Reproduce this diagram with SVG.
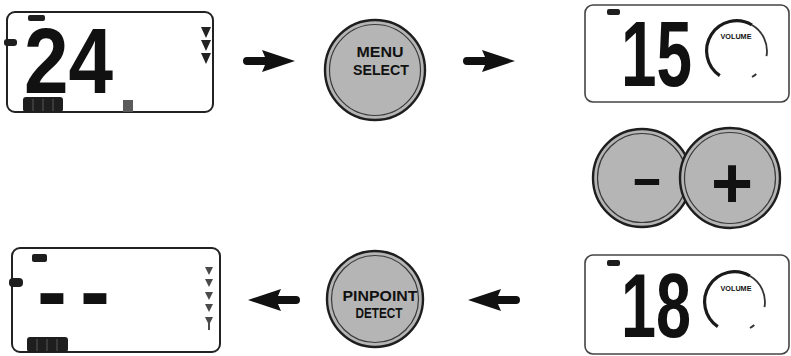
<svg xmlns="http://www.w3.org/2000/svg" width="791" height="356" viewBox="0 0 791 356">
  <style>
    .lcd { fill: #ffffff; stroke: #222; stroke-width: 2; }
    .lcd2 { fill: #ffffff; stroke: #444; stroke-width: 1.6; }
    .digit { font-family: "Liberation Sans", Arial, sans-serif; font-weight: bold; fill: #111; }
    .blob { fill: #1e1e1e; }
    .tri { fill: #222; }
    .tri2 { fill: #4a4a4a; }
    .btn { fill: #b5b5b5; stroke: #1e1e1e; stroke-width: 2.4; }
    .ring { fill: none; stroke: #3a3a3a; stroke-width: 1.2; }
    .lbl { font-family: "Liberation Sans", Arial, sans-serif; font-weight: bold; fill: #111; text-anchor: middle; }
    .vol { font-family: "Liberation Sans", Arial, sans-serif; font-weight: bold; font-size: 7px; fill: #111; text-anchor: middle; }
    .arcThick { fill: none; stroke: #1a1a1a; stroke-width: 3.2; }
    .arcThin { fill: none; stroke: #333; stroke-width: 1.8; }
    .arrow { fill: #111; }
  </style>
  <defs>
    <path id="arr" d="M-48,-4 L-30,-4 L-33,-11 L0,0 L-33,11 L-30,4 L-48,4 A4,4 0 0 1 -48,-4 Z"/>
  </defs>
  <rect width="791" height="356" fill="#ffffff"/>

  <!-- Panel 1: 24 -->
  <g id="lcd-24">
    <rect class="lcd" x="7" y="12" width="206" height="100" rx="8"/>
    <rect class="blob" x="28" y="15" width="17" height="6" rx="2"/>
    <rect class="blob" x="4" y="39" width="13" height="7" rx="3"/>
    <text class="digit" x="0" y="0" font-size="92" transform="translate(24,93) scale(0.87,1)">24</text>
    <polygon class="tri" points="201,27 211,27 206,38"/>
    <polygon class="tri" points="201,40 211,40 206,51"/>
    <polygon class="tri" points="201,53 211,53 206,64"/>
    <rect class="blob" x="23" y="97" width="40" height="15" rx="3"/>
    <g stroke="#666" stroke-width="0.8"><line x1="33" y1="99" x2="33" y2="111"/><line x1="43" y1="99" x2="43" y2="111"/><line x1="53" y1="99" x2="53" y2="111"/></g>
    <rect x="123" y="100" width="10" height="12" fill="#5a5a5a"/>
  </g>

  <!-- MENU SELECT button -->
  <g id="btn-menu-select">
    <circle class="btn" cx="375" cy="70" r="50"/>
    <circle class="ring" cx="375" cy="70" r="45.5"/>
    <text class="lbl" x="380" y="57" font-size="14" textLength="47" lengthAdjust="spacingAndGlyphs">MENU</text>
    <text class="lbl" x="381" y="75" font-size="14" textLength="56" lengthAdjust="spacingAndGlyphs">SELECT</text>
  </g>

  <!-- Panel 2: 15 VOLUME -->
  <g id="lcd-15">
    <rect class="lcd2" x="585" y="5" width="204" height="97" rx="8"/>
    <rect class="blob" x="607" y="9" width="13" height="6" rx="2"/>
    <text class="digit" x="0" y="0" font-size="93" transform="translate(621,86) scale(0.687,1)">15</text>
    <path class="arcThick" d="M719.8,75.6 A30,30 0 0 1 752,25"/>
    <path class="arcThin" d="M752,25 A30,30 0 0 1 766.5,56.2"/>
    <path class="arcThin" d="M756.3,74 A30,30 0 0 1 752,77"/>
    <text class="vol" x="736" y="39" textLength="31" lengthAdjust="spacingAndGlyphs">VOLUME</text>
  </g>

  <!-- minus and plus buttons -->
  <g id="btn-minus">
    <circle class="btn" cx="642" cy="178" r="49"/>
    <circle class="ring" cx="642" cy="178" r="44.5"/>
    <text class="lbl" x="647" y="195" font-size="50" textLength="32" lengthAdjust="spacingAndGlyphs">-</text>
  </g>
  <g id="btn-plus">
    <circle class="btn" cx="730" cy="178" r="50"/>
    <circle class="ring" cx="730" cy="178" r="45.5"/>
    <text class="lbl" x="732" y="208" font-size="72">+</text>
  </g>

  <!-- Panel 4: 18 VOLUME -->
  <g id="lcd-18">
    <rect class="lcd2" x="585" y="255" width="204" height="99" rx="8"/>
    <rect class="blob" x="607" y="260" width="13" height="6" rx="2"/>
    <text class="digit" x="0" y="0" font-size="91" transform="translate(621,337) scale(0.692,1)">18</text>
    <path class="arcThick" d="M717.8,326.6 A30,30 0 0 1 750,276"/>
    <path class="arcThin" d="M750,276 A30,30 0 0 1 764.5,307.2"/>
    <path class="arcThin" d="M754.3,325 A30,30 0 0 1 750,328"/>
    <text class="vol" x="736" y="291" textLength="31" lengthAdjust="spacingAndGlyphs">VOLUME</text>
  </g>

  <!-- PINPOINT DETECT button -->
  <g id="btn-pinpoint-detect">
    <circle class="btn" cx="375" cy="299" r="48"/>
    <circle class="ring" cx="375" cy="299" r="43.5"/>
    <text class="lbl" x="380" y="301" font-size="15" textLength="75" lengthAdjust="spacingAndGlyphs">PINPOINT</text>
    <text class="lbl" x="379" y="318" font-size="14" font-weight="normal" fill="#222" textLength="47" lengthAdjust="spacingAndGlyphs">DETECT</text>
  </g>

  <!-- Panel 3: dashes -->
  <g id="lcd-dashes">
    <rect class="lcd" x="12" y="248" width="208" height="104" rx="8"/>
    <rect class="blob" x="32" y="254" width="15" height="8" rx="2"/>
    <rect class="blob" x="9" y="278" width="14" height="9" rx="4"/>
    <text class="digit" x="37" y="322" font-size="90" letter-spacing="13">--</text>
    <polygon class="tri2" points="205,267 213,267 209,275"/>
    <polygon class="tri2" points="205,279 213,279 209,287"/>
    <polygon class="tri2" points="205,292 213,292 209,300"/>
    <polygon class="tri2" points="205,304 213,304 209,312"/>
    <polygon class="tri2" points="205,317 213,317 210,323 210,330 208,330 208,323"/>
    <rect class="blob" x="27" y="337" width="41" height="15" rx="3"/>
    <g stroke="#666" stroke-width="0.8"><line x1="37" y1="339" x2="37" y2="351"/><line x1="47" y1="339" x2="47" y2="351"/><line x1="57" y1="339" x2="57" y2="351"/></g>
  </g>

  <!-- connectors -->
  <g id="connectors">
    <use href="#arr" class="arrow" transform="translate(295,61)"/>
    <use href="#arr" class="arrow" transform="translate(515,61)"/>
    <use href="#arr" class="arrow" transform="translate(248,300) scale(-1,1)"/>
    <use href="#arr" class="arrow" transform="translate(468,300) scale(-1,1)"/>
  </g>
</svg>
